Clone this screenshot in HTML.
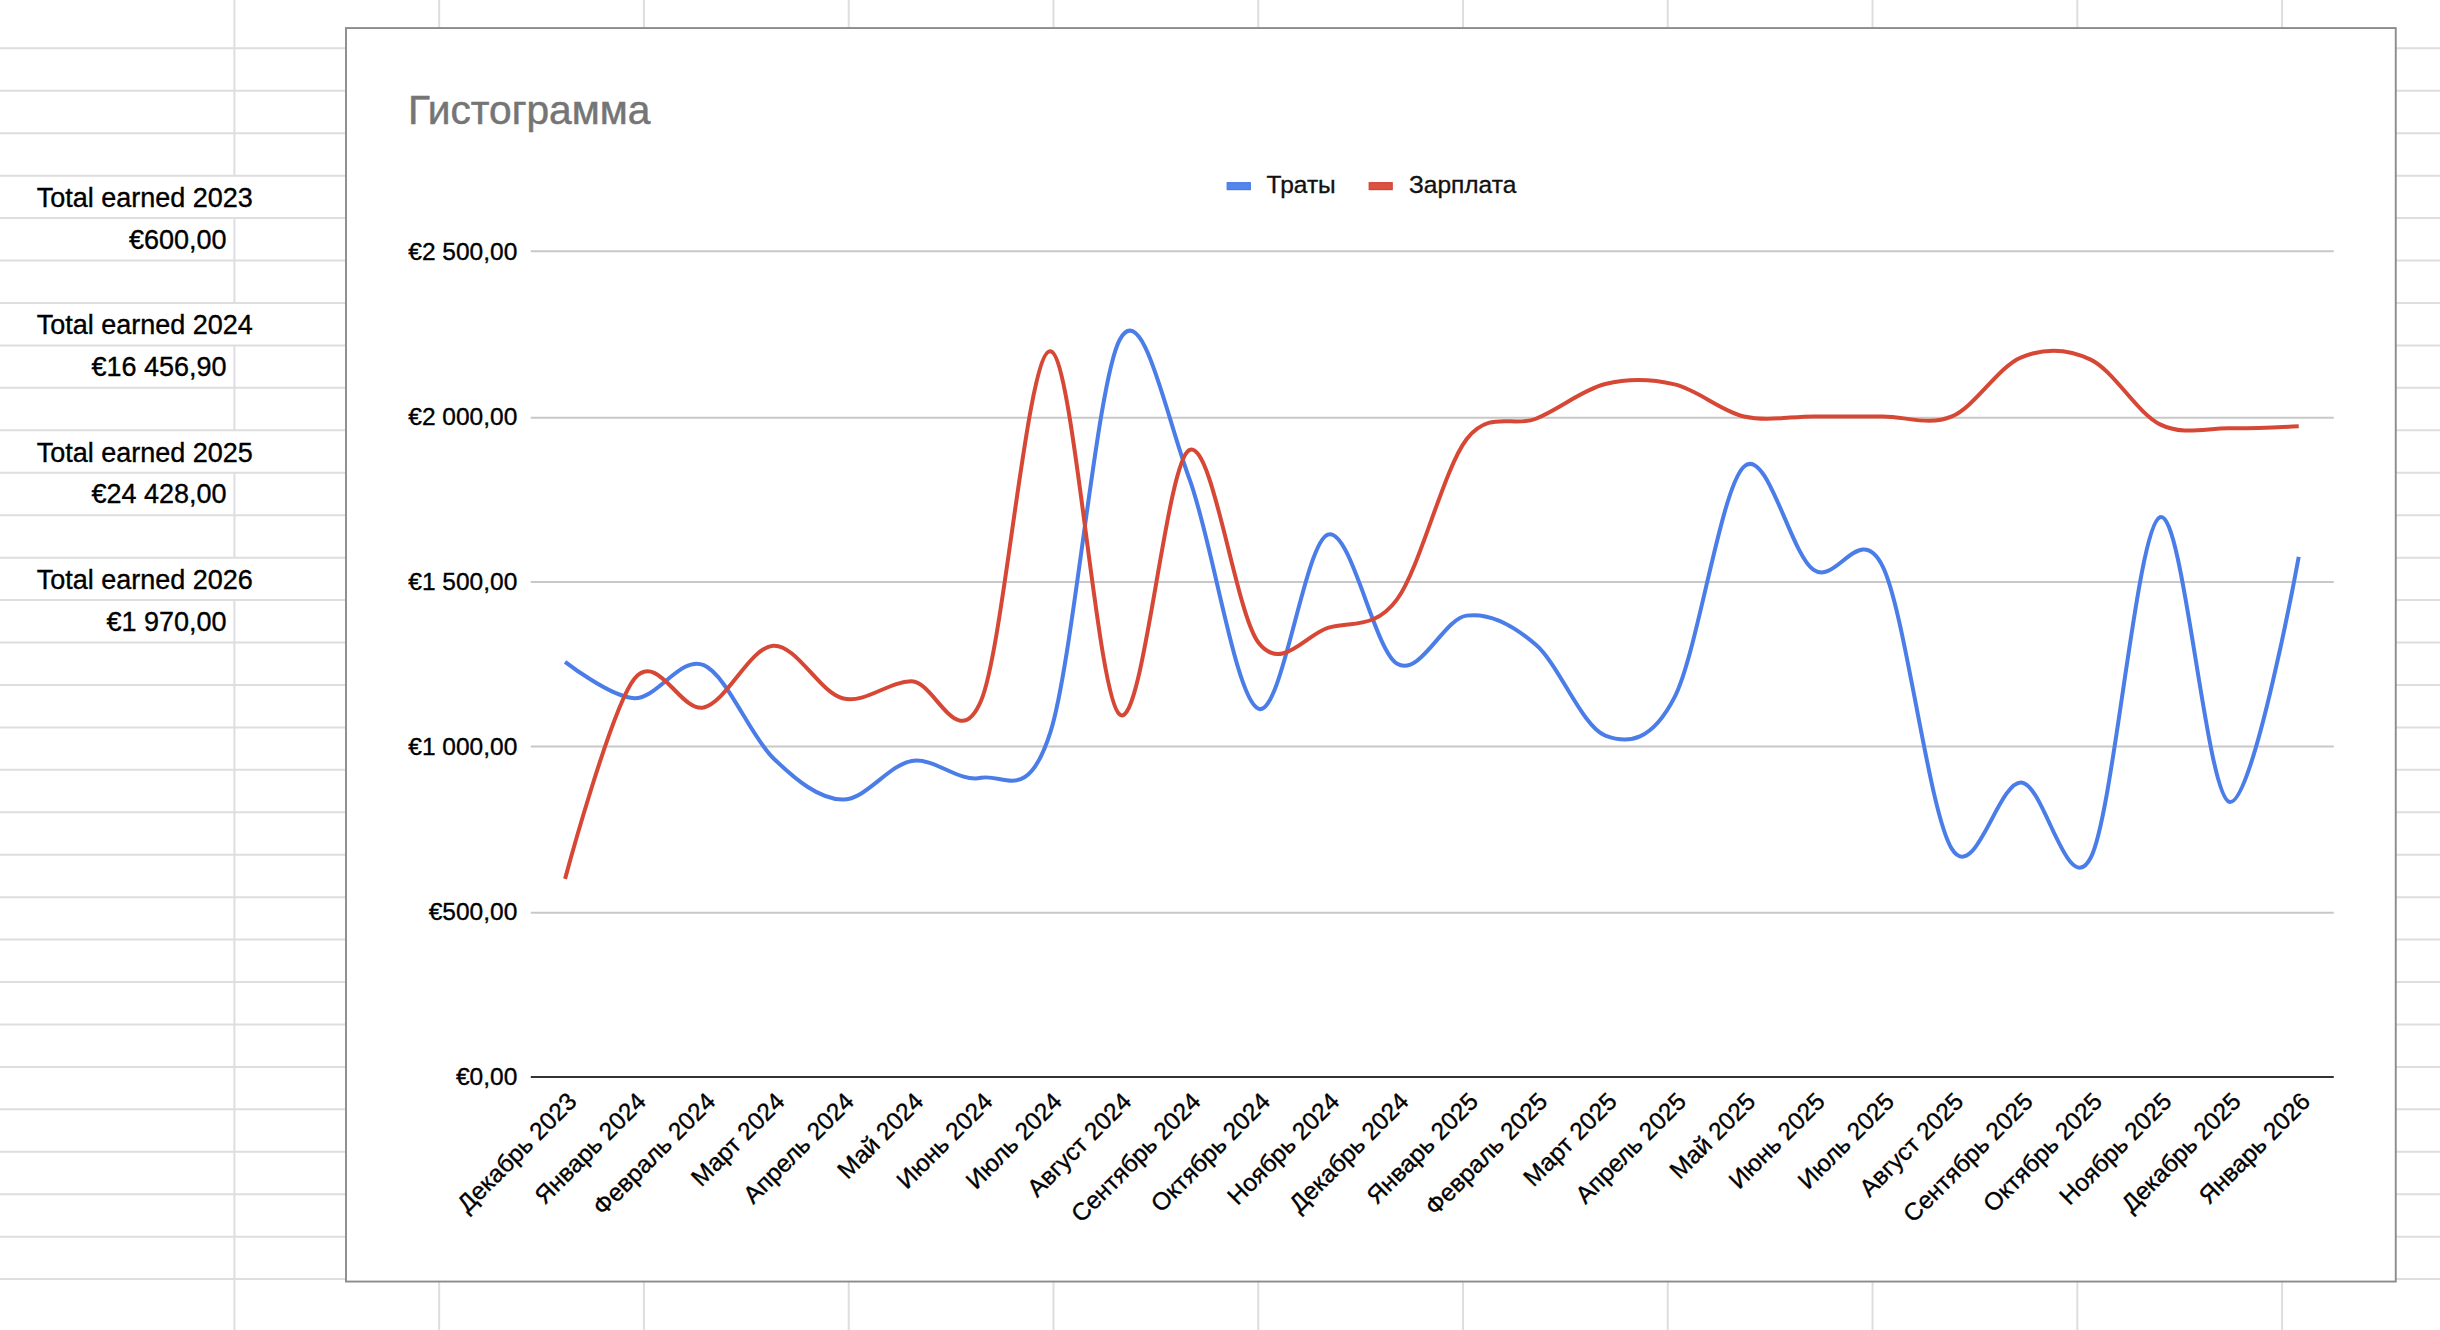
<!DOCTYPE html>
<html lang="ru"><head><meta charset="utf-8"><title>Гистограмма</title>
<style>
html,body{margin:0;padding:0;background:#fff;}
body{width:2440px;height:1330px;overflow:hidden;position:relative;}
svg{position:absolute;left:0;top:0;display:block;}
text{font-family:"Liberation Sans",Arial,Helvetica,sans-serif;}
.cell{font-size:27px;fill:#000;stroke:#000;stroke-width:0.35px;}
.ax{font-size:24.5px;fill:#000;stroke:#000;stroke-width:0.35px;}
.lg{font-size:24.5px;fill:#111;stroke:#111;stroke-width:0.35px;}
.ttl{font-size:40.7px;fill:#757575;stroke:#757575;stroke-width:0.5px;}
</style></head><body>
<svg width="2440" height="1330" viewBox="0 0 2440 1330">
<rect x="0" y="0" width="2440" height="1330" fill="#fff"/>
<g stroke="#dedede" stroke-width="2" fill="none">
<line x1="0" y1="48.35" x2="2440" y2="48.35"/>
<line x1="0" y1="90.79" x2="2440" y2="90.79"/>
<line x1="0" y1="133.23" x2="2440" y2="133.23"/>
<line x1="0" y1="175.67" x2="2440" y2="175.67"/>
<line x1="0" y1="218.11" x2="2440" y2="218.11"/>
<line x1="0" y1="260.55" x2="2440" y2="260.55"/>
<line x1="0" y1="302.99" x2="2440" y2="302.99"/>
<line x1="0" y1="345.43" x2="2440" y2="345.43"/>
<line x1="0" y1="387.87" x2="2440" y2="387.87"/>
<line x1="0" y1="430.31" x2="2440" y2="430.31"/>
<line x1="0" y1="472.75" x2="2440" y2="472.75"/>
<line x1="0" y1="515.19" x2="2440" y2="515.19"/>
<line x1="0" y1="557.63" x2="2440" y2="557.63"/>
<line x1="0" y1="600.07" x2="2440" y2="600.07"/>
<line x1="0" y1="642.51" x2="2440" y2="642.51"/>
<line x1="0" y1="684.95" x2="2440" y2="684.95"/>
<line x1="0" y1="727.39" x2="2440" y2="727.39"/>
<line x1="0" y1="769.83" x2="2440" y2="769.83"/>
<line x1="0" y1="812.27" x2="2440" y2="812.27"/>
<line x1="0" y1="854.71" x2="2440" y2="854.71"/>
<line x1="0" y1="897.15" x2="2440" y2="897.15"/>
<line x1="0" y1="939.59" x2="2440" y2="939.59"/>
<line x1="0" y1="982.03" x2="2440" y2="982.03"/>
<line x1="0" y1="1024.47" x2="2440" y2="1024.47"/>
<line x1="0" y1="1066.91" x2="2440" y2="1066.91"/>
<line x1="0" y1="1109.35" x2="2440" y2="1109.35"/>
<line x1="0" y1="1151.79" x2="2440" y2="1151.79"/>
<line x1="0" y1="1194.23" x2="2440" y2="1194.23"/>
<line x1="0" y1="1236.67" x2="2440" y2="1236.67"/>
<line x1="0" y1="1279.11" x2="2440" y2="1279.11"/>
<line x1="234.40" y1="0.00" x2="234.40" y2="175.67"/>
<line x1="234.40" y1="218.11" x2="234.40" y2="302.99"/>
<line x1="234.40" y1="345.43" x2="234.40" y2="430.31"/>
<line x1="234.40" y1="472.75" x2="234.40" y2="557.63"/>
<line x1="234.40" y1="600.07" x2="234.40" y2="1330.00"/>
<line x1="439.17" y1="0" x2="439.17" y2="1330"/>
<line x1="643.94" y1="0" x2="643.94" y2="1330"/>
<line x1="848.71" y1="0" x2="848.71" y2="1330"/>
<line x1="1053.48" y1="0" x2="1053.48" y2="1330"/>
<line x1="1258.25" y1="0" x2="1258.25" y2="1330"/>
<line x1="1463.02" y1="0" x2="1463.02" y2="1330"/>
<line x1="1667.79" y1="0" x2="1667.79" y2="1330"/>
<line x1="1872.56" y1="0" x2="1872.56" y2="1330"/>
<line x1="2077.33" y1="0" x2="2077.33" y2="1330"/>
<line x1="2282.10" y1="0" x2="2282.10" y2="1330"/>
</g>
<text class="cell" x="36.7" y="207.10">Total earned 2023</text>
<text class="cell" x="226.6" y="248.74" text-anchor="end">€600,00</text>
<text class="cell" x="36.7" y="334.42">Total earned 2024</text>
<text class="cell" x="226.6" y="376.06" text-anchor="end">€16 456,90</text>
<text class="cell" x="36.7" y="461.74">Total earned 2025</text>
<text class="cell" x="226.6" y="503.38" text-anchor="end">€24 428,00</text>
<text class="cell" x="36.7" y="589.06">Total earned 2026</text>
<text class="cell" x="226.6" y="630.70" text-anchor="end">€1 970,00</text>
<rect x="346.00" y="28.05" width="2049.75" height="1253.50" fill="#fff" stroke="#8c8c8c" stroke-width="1.9"/>
<text class="ttl" x="408" y="123.9">Гистограмма</text>
<rect x="1227.2" y="182.7" width="23.1" height="6.9" fill="#5686ec" stroke="#467be8" stroke-width="1.2"/>
<text class="lg" x="1266.6" y="193.3">Траты</text>
<rect x="1369.2" y="182.7" width="23.0" height="6.9" fill="#d95242" stroke="#d44430" stroke-width="1.2"/>
<text class="lg" x="1409.0" y="193.3">Зарплата</text>
<g stroke="#c8c8c8" stroke-width="2">
<line x1="530.80" y1="251.25" x2="2333.80" y2="251.25"/>
<line x1="530.80" y1="417.67" x2="2333.80" y2="417.67"/>
<line x1="530.80" y1="582.10" x2="2333.80" y2="582.10"/>
<line x1="530.80" y1="746.38" x2="2333.80" y2="746.38"/>
<line x1="530.80" y1="912.74" x2="2333.80" y2="912.74"/>
</g>
<text class="ax" x="517.3" y="259.62" text-anchor="end">€2 500,00</text>
<text class="ax" x="517.3" y="424.78" text-anchor="end">€2 000,00</text>
<text class="ax" x="517.3" y="589.94" text-anchor="end">€1 500,00</text>
<text class="ax" x="517.3" y="755.10" text-anchor="end">€1 000,00</text>
<text class="ax" x="517.3" y="920.26" text-anchor="end">€500,00</text>
<text class="ax" x="517.3" y="1085.42" text-anchor="end">€0,00</text>
<path d="M565.07,661.86C565.07,661.86 611.30,697.64 634.42,698.19C657.53,698.74 680.65,655.20 703.77,665.16C726.88,675.13 750.00,735.57 773.11,757.98C796.23,780.39 819.34,799.11 842.46,799.60C865.57,800.10 888.69,764.59 911.80,760.95C934.92,757.32 958.03,782.64 981.15,777.80C1004.27,772.96 1027.38,804.94 1050.50,731.89C1073.61,658.83 1096.73,381.75 1119.84,339.47C1142.96,297.18 1166.07,416.65 1189.19,478.20C1212.30,539.75 1235.42,699.35 1258.53,708.76C1281.65,718.18 1304.77,542.17 1327.88,534.68C1351.00,527.20 1374.11,650.35 1397.23,663.84C1420.34,677.33 1443.46,618.81 1466.57,615.61C1489.69,612.42 1512.80,624.70 1535.92,644.68C1559.03,664.67 1582.15,726.77 1605.27,735.52C1628.38,744.27 1651.50,742.02 1674.61,697.20C1697.73,652.39 1720.84,487.89 1743.96,466.64C1767.07,445.39 1790.19,553.07 1813.30,569.70C1836.42,586.32 1859.53,519.82 1882.65,566.40C1905.77,612.97 1928.88,813.14 1952.00,849.15C1975.11,885.15 1998.23,780.99 2021.34,782.42C2044.46,783.86 2067.57,901.95 2090.69,857.74C2113.80,813.53 2136.92,526.48 2160.03,517.18C2183.15,507.87 2206.27,795.31 2229.38,801.91C2252.50,808.52 2298.73,556.82 2298.73,556.82" fill="none" stroke="#4a7de8" stroke-width="4"/>
<path d="M565.07,878.88C565.07,878.88 611.30,707.28 634.42,678.70C657.53,650.13 680.65,712.95 703.77,707.44C726.88,701.94 750.00,647.21 773.11,645.67C796.23,644.13 819.34,692.25 842.46,698.19C865.57,704.14 888.69,680.96 911.80,681.35C934.92,681.73 958.03,755.50 981.15,700.51C1004.27,645.51 1027.38,348.99 1050.50,351.36C1073.61,353.72 1096.73,698.25 1119.84,714.71C1142.96,731.17 1166.07,462.12 1189.19,450.12C1212.30,438.12 1235.42,613.08 1258.53,642.70C1281.65,672.32 1304.77,635.10 1327.88,627.83C1351.00,620.57 1374.11,630.53 1397.23,599.10C1420.34,567.66 1443.46,469.28 1466.57,439.22C1489.69,409.16 1512.80,427.94 1535.92,418.74C1559.03,409.55 1582.15,389.78 1605.27,384.06C1628.38,378.33 1651.50,378.99 1674.61,384.39C1697.73,389.78 1720.84,411.09 1743.96,416.43C1767.07,421.77 1790.19,416.43 1813.30,416.43C1836.42,416.43 1859.53,416.43 1882.65,416.43C1905.77,416.43 1928.88,426.28 1952.00,416.43C1975.11,406.58 1998.23,366.77 2021.34,357.30C2044.46,347.83 2067.57,348.44 2090.69,359.61C2113.80,370.79 2136.92,412.91 2160.03,424.36C2183.15,435.81 2206.27,427.99 2229.38,428.32C2252.50,428.65 2298.73,426.34 2298.73,426.34" fill="none" stroke="#d64835" stroke-width="4"/>
<line x1="530.80" y1="1077.07" x2="2333.80" y2="1077.07" stroke="#333" stroke-width="2"/>
<text class="ax" text-anchor="end" transform="translate(578.07,1102.87) rotate(-45)">Декабрь 2023</text>
<text class="ax" text-anchor="end" transform="translate(647.42,1102.87) rotate(-45)">Январь 2024</text>
<text class="ax" text-anchor="end" transform="translate(716.77,1102.87) rotate(-45)">Февраль 2024</text>
<text class="ax" text-anchor="end" transform="translate(786.11,1102.87) rotate(-45)">Март 2024</text>
<text class="ax" text-anchor="end" transform="translate(855.46,1102.87) rotate(-45)">Апрель 2024</text>
<text class="ax" text-anchor="end" transform="translate(924.80,1102.87) rotate(-45)">Май 2024</text>
<text class="ax" text-anchor="end" transform="translate(994.15,1102.87) rotate(-45)">Июнь 2024</text>
<text class="ax" text-anchor="end" transform="translate(1063.50,1102.87) rotate(-45)">Июль 2024</text>
<text class="ax" text-anchor="end" transform="translate(1132.84,1102.87) rotate(-45)">Август 2024</text>
<text class="ax" text-anchor="end" transform="translate(1202.19,1102.87) rotate(-45)">Сентябрь 2024</text>
<text class="ax" text-anchor="end" transform="translate(1271.53,1102.87) rotate(-45)">Октябрь 2024</text>
<text class="ax" text-anchor="end" transform="translate(1340.88,1102.87) rotate(-45)">Ноябрь 2024</text>
<text class="ax" text-anchor="end" transform="translate(1410.23,1102.87) rotate(-45)">Декабрь 2024</text>
<text class="ax" text-anchor="end" transform="translate(1479.57,1102.87) rotate(-45)">Январь 2025</text>
<text class="ax" text-anchor="end" transform="translate(1548.92,1102.87) rotate(-45)">Февраль 2025</text>
<text class="ax" text-anchor="end" transform="translate(1618.27,1102.87) rotate(-45)">Март 2025</text>
<text class="ax" text-anchor="end" transform="translate(1687.61,1102.87) rotate(-45)">Апрель 2025</text>
<text class="ax" text-anchor="end" transform="translate(1756.96,1102.87) rotate(-45)">Май 2025</text>
<text class="ax" text-anchor="end" transform="translate(1826.30,1102.87) rotate(-45)">Июнь 2025</text>
<text class="ax" text-anchor="end" transform="translate(1895.65,1102.87) rotate(-45)">Июль 2025</text>
<text class="ax" text-anchor="end" transform="translate(1965.00,1102.87) rotate(-45)">Август 2025</text>
<text class="ax" text-anchor="end" transform="translate(2034.34,1102.87) rotate(-45)">Сентябрь 2025</text>
<text class="ax" text-anchor="end" transform="translate(2103.69,1102.87) rotate(-45)">Октябрь 2025</text>
<text class="ax" text-anchor="end" transform="translate(2173.03,1102.87) rotate(-45)">Ноябрь 2025</text>
<text class="ax" text-anchor="end" transform="translate(2242.38,1102.87) rotate(-45)">Декабрь 2025</text>
<text class="ax" text-anchor="end" transform="translate(2311.73,1102.87) rotate(-45)">Январь 2026</text>
</svg>
</body></html>
